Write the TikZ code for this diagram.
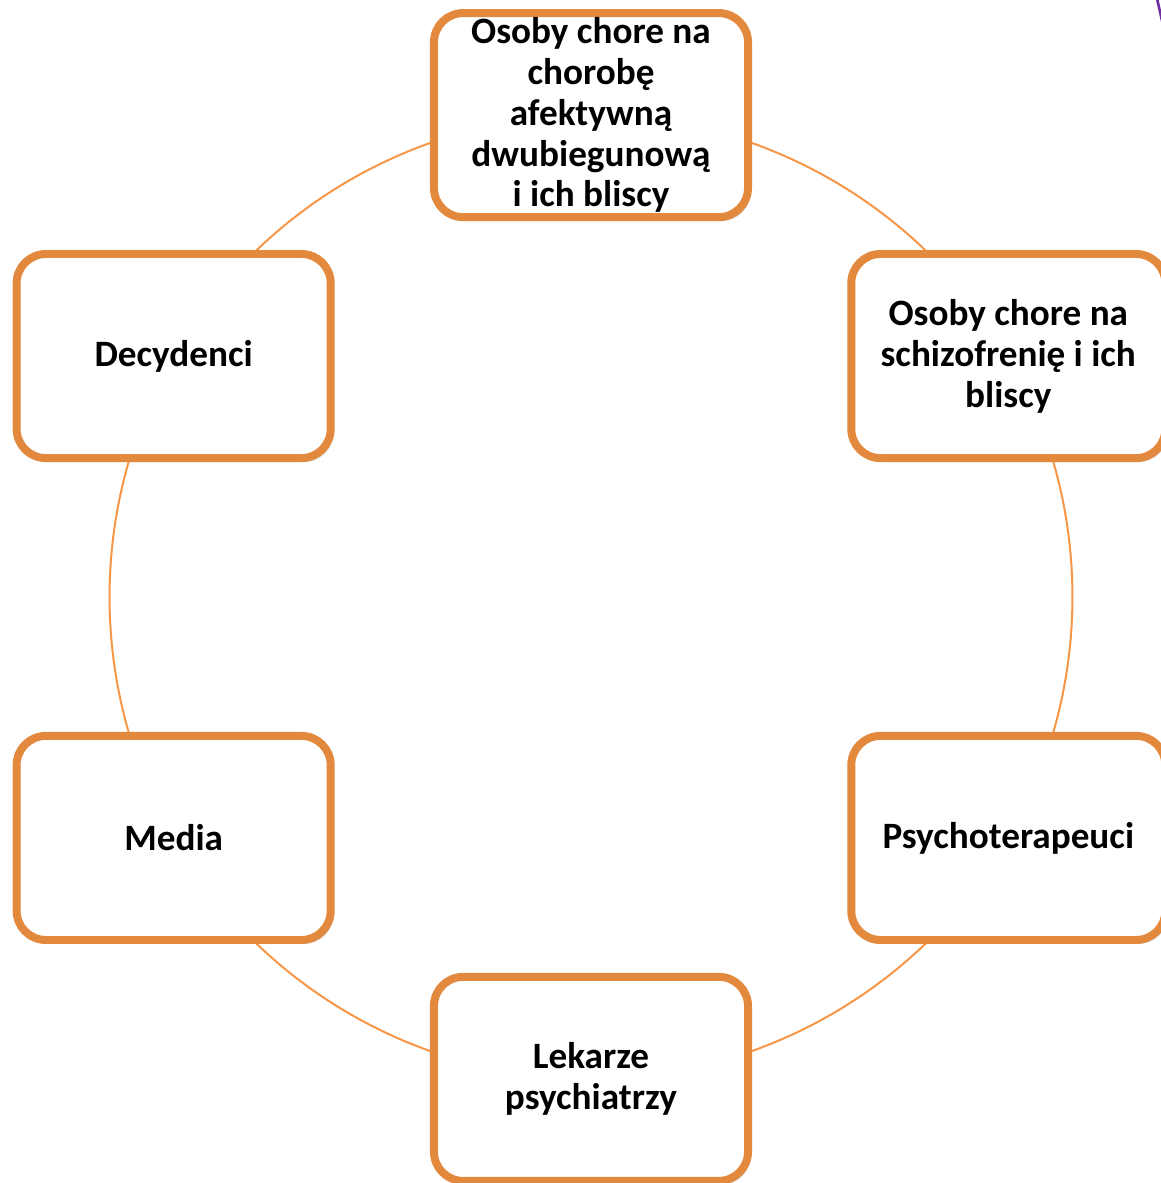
\documentclass[tikz,border=0pt]{standalone}
\usepackage{fontspec}
\setmainfont{Carlito}
\usetikzlibrary{shadows,backgrounds}
\definecolor{boxorange}{RGB}{226,137,62}
\definecolor{ringorange}{RGB}{247,150,70}
\definecolor{edgepurple}{RGB}{112,48,160}

\begin{document}
\begin{tikzpicture}[
    group/.style={draw=boxorange, line width=6pt, fill=white, rounded corners=22pt,
      minimum width=8.31cm, minimum height=5.4cm, inner sep=0pt, align=center,
      font=\fontsize{28}{30.75}\selectfont\bfseries,
      drop shadow={opacity=0.3, shadow xshift=2pt, shadow yshift=-3pt}},
    ring/.style={draw=ringorange, line width=1.5pt, bend left=30, looseness=0.91}
  ]
  % Page size
  \useasboundingbox (-15.637,-15.505) rectangle (15.081,15.796);

  % Groups placed round the ring
  \node[group] (bipolar) at (90:12.75) {Osoby chore na\\chorobę\\afektywną\\dwubiegunową\\i ich bliscy};
  \node[group] (schizo) at (30:12.75) {Osoby chore na\\schizofrenię i ich\\bliscy};
  \node[group] (therapists) at (-30:12.75) {Psychoterapeuci};
  \node[group] (doctors) at (-90:12.75) {Lekarze\\psychiatrzy};
  \node[group] (media) at (-150:12.75) {Media};
  \node[group] (deciders) at (150:12.75) {Decydenci};

  % Ring behind the boxes
  \begin{scope}[on background layer]
    \draw[ring] (bipolar.center) to (schizo.center);
    \draw[ring] (schizo.center) to (therapists.center);
    \draw[ring] (therapists.center) to (doctors.center);
    \draw[ring] (doctors.center) to (media.center);
    \draw[ring] (media.center) to (deciders.center);
    \draw[ring] (deciders.center) to (bipolar.center);
  \end{scope}

  % Edge of a shape cut off at the top right
  \coordinate (cutA) at (14.95,15.95);
  \coordinate (cutB) at (15.12,15.2);
  \draw[edgepurple, line width=2pt] (cutA) -- (cutB);
\end{tikzpicture}
\end{document}
